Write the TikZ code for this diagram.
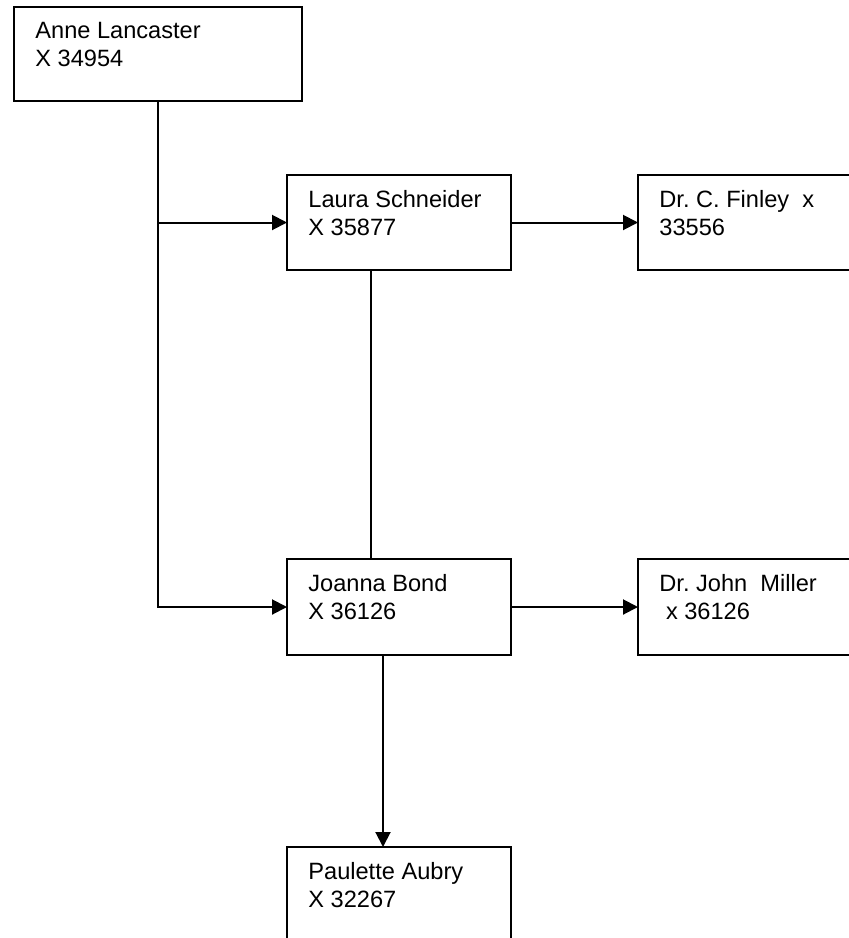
\documentclass[tikz,border=0pt]{standalone}
\usepackage{fontspec}
\setmainfont{Liberation Sans}
\usetikzlibrary{arrows.meta}
\begin{document}
\begin{tikzpicture}[x=0.5pt,y=-0.5pt,
    card/.style={draw,line width=1pt,anchor=north west,inner sep=0pt,outer sep=0pt,
      minimum width=112pt,minimum height=47.5pt},
    cardtext/.style={anchor=north west,inner sep=0pt,align=left,
      font=\fontsize{11.8pt}{14pt}\selectfont\frenchspacing},
    link/.style={line width=1pt},
    arrow/.style={link,-{Triangle[length=7.5pt,width=7.5pt]}}]
  \path[use as bounding box,clip] (0,0) rectangle (849,938);
  % boxes
  \node[card,minimum width=144pt,minimum height=47pt] (anne) at (14,7) {};
  \node[card] (laura) at (287,175) {};
  \node[card] (finley) at (638,175) {};
  \node[card,minimum height=48pt] (joanna) at (287,559) {};
  \node[card,minimum height=48pt] (miller) at (638,559) {};
  \node[card] (paulette) at (287,847) {};
  % names and extensions
  \node[cardtext] (anne-t) at ([shift={(10.5pt,-7.5pt)}]anne.north west) {Anne Lancaster\\X 34954};
  \node[cardtext] (laura-t) at ([shift={(10.5pt,-7.5pt)}]laura.north west) {Laura Schneider\\X 35877};
  \node[cardtext] (finley-t) at ([shift={(10.5pt,-7.5pt)}]finley.north west) {Dr. C. Finley\ \ x\\33556};
  \node[cardtext] (joanna-t) at ([shift={(10.5pt,-7.5pt)}]joanna.north west) {Joanna Bond\\X 36126};
  \node[cardtext] (miller-t) at ([shift={(10.5pt,-7.5pt)}]miller.north west) {Dr. John\ \ Miller\\\hspace*{3.3pt}x 36126};
  \node[cardtext] (paulette-t) at ([shift={(10.5pt,-7.5pt)}]paulette.north west) {Paulette Aubry\\X 32267};
  % connectors
  \draw[arrow] (anne.south) |- (joanna.west);
  \draw[arrow] (anne.south |- laura.west) -- (laura.west);
  \draw[arrow] (laura.east) -- (finley.west);
  \draw[arrow] (joanna.east) -- (miller.west);
  \draw[link] ([xshift=-14pt]laura.south) -- ([xshift=-14pt]laura.south |- joanna.north);
  \draw[arrow] ([xshift=-8pt]joanna.south) -- ([xshift=-8pt]joanna.south |- paulette.north);
\end{tikzpicture}
\end{document}
